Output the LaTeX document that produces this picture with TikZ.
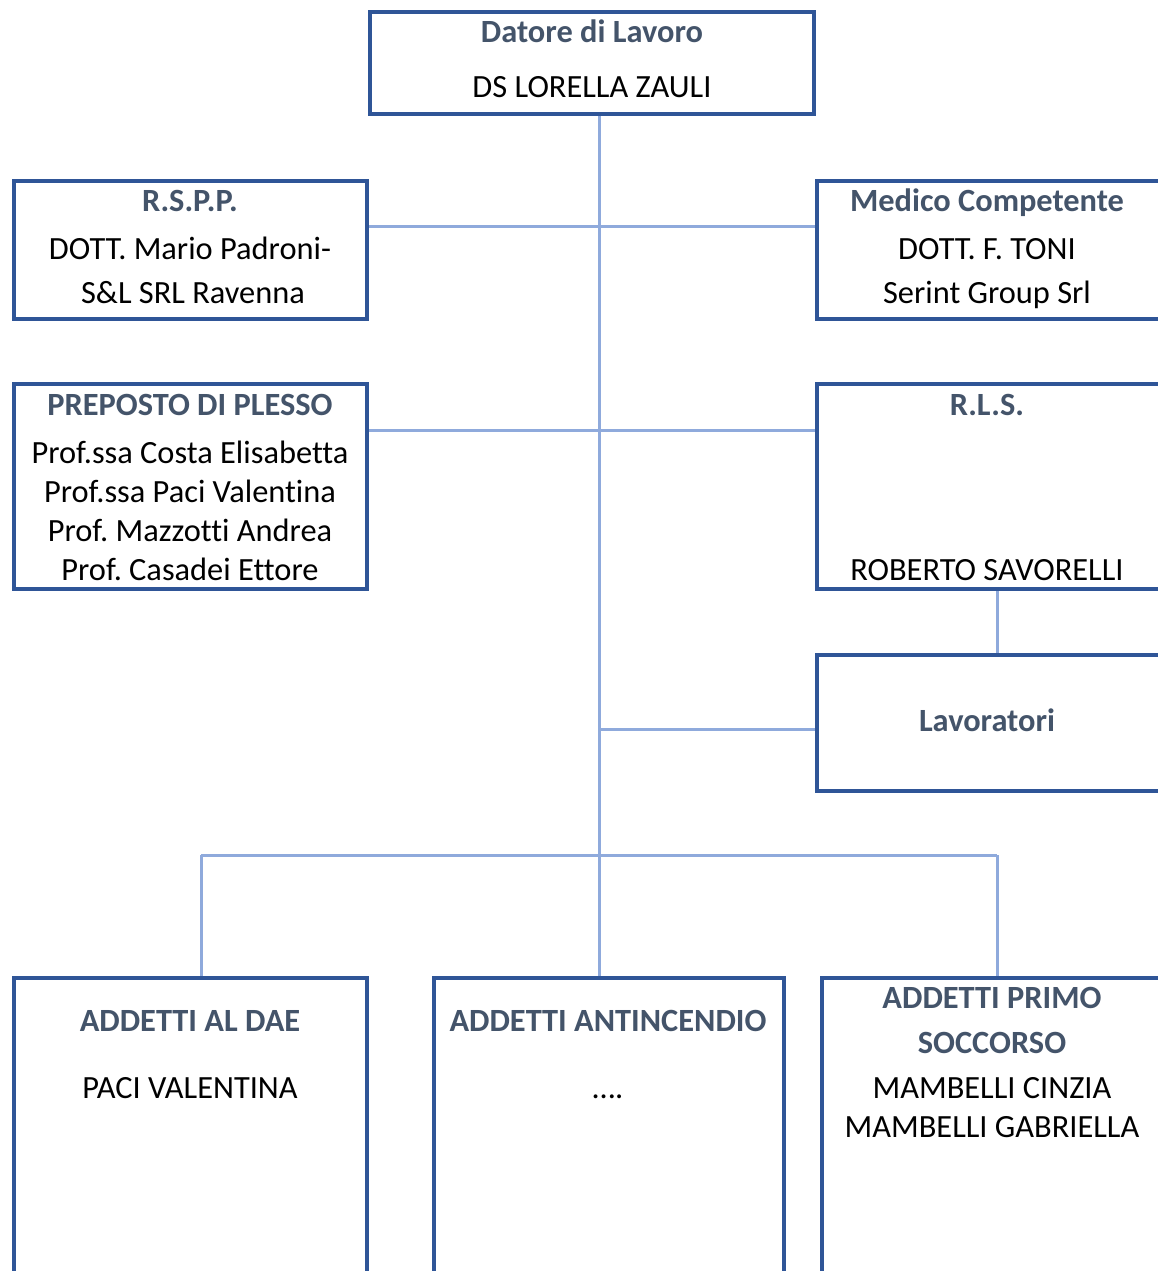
\documentclass[tikz,border=0pt]{standalone}
\usepackage{fontspec}
\setmainfont[Ligatures=NoCommon]{Carlito}
\frenchspacing
\definecolor{boxblue}{HTML}{2F5597}
\definecolor{linkblue}{HTML}{8FAADC}
\definecolor{titlecol}{HTML}{44546A}
\begin{document}
\begin{tikzpicture}[x=1pt,y=-1pt,
  orgbox/.style={draw=boxblue,line width=4pt,rectangle,inner sep=0pt,fill=none},
  link/.style={draw=linkblue,line width=3pt},
  ttl/.style={anchor=base,inner sep=0pt,font=\fontsize{32.4}{38}\selectfont\bfseries,text=titlecol},
  body/.style={anchor=base,inner sep=0pt,font=\fontsize{32.4}{38}\selectfont,text=black}]
\useasboundingbox (0,0) rectangle (1158,1271);
\clip (0,0) rectangle (1158,1271);
% boxes
\node[orgbox,minimum width=444pt,minimum height=102pt] (datore) at (592,63) {};
\node[orgbox,minimum width=353pt,minimum height=138pt] (rspp) at (190.5,250) {};
\node[orgbox,minimum width=383pt,minimum height=138pt] (medico) at (1008.5,250) {};
\node[orgbox,minimum width=353pt,minimum height=205pt] (prep) at (190.5,486.5) {};
\node[orgbox,minimum width=383pt,minimum height=205pt] (rls) at (1008.5,486.5) {};
\node[orgbox,minimum width=383pt,minimum height=136pt] (lav) at (1008.5,723) {};
\node[orgbox,minimum width=353pt,minimum height=322pt] (dae) at (190.5,1139) {};
\node[orgbox,minimum width=350pt,minimum height=322pt] (antinc) at (609,1139) {};
\node[orgbox,minimum width=378pt,minimum height=322pt] (primo) at (1011,1139) {};
% connector coordinates
\coordinate (trunk) at (599,855);
\coordinate (jl) at (201,855);
\coordinate (jr) at (997,855);
\coordinate (jlav) at (599,729);
% connectors
\draw[link] (datore.south -| trunk) -- (trunk);
\draw[link] (rspp.east |- 0,226) -- (medico.west |- 0,226);
\draw[link] (prep.east |- 0,430) -- (rls.west |- 0,430);
\draw[link] (rls.south -| jr) -- (lav.north -| jr);
\draw[link] (jlav) -- (lav.west |- jlav);
\draw[link] (jl) -- (jr);
\draw[link] (jl) -- (dae.north -| jl);
\draw[link] (trunk) -- (antinc.north -| trunk);
\draw[link] (jr) -- (primo.north -| jr);
% texts
\node[ttl] (t1) at (592,43) {Datore di Lavoro};
\node[body] (t2) at (592,98) {DS LORELLA ZAULI};
\node[ttl] (t3) at (190,211) {R.S.P.P.};
\node[body] (t4) at (190,259) {DOTT. Mario Padroni-};
\node[body] (t5) at (193,303) {S\&L SRL Ravenna};
\node[ttl] (t6) at (987,211) {Medico Competente};
\node[body] (t7) at (987,259) {DOTT. F. TONI};
\node[body] (t8) at (987,303) {Serint Group Srl};
\node[ttl] (t9) at (190,415) {PREPOSTO DI PLESSO};
\node[body] (t10) at (190,463) {Prof.ssa Costa Elisabetta};
\node[body] (t11) at (190,502) {Prof.ssa Paci Valentina};
\node[body] (t12) at (190,541) {Prof. Mazzotti Andrea};
\node[body] (t13) at (190,580) {Prof. Casadei Ettore};
\node[ttl] (t14) at (987,415) {R.L.S.};
\node[body] (t15) at (987,580) {ROBERTO SAVORELLI};
\node[ttl] (t16) at (987,731) {Lavoratori};
\node[ttl] (t17) at (190,1031) {ADDETTI AL DAE};
\node[body] (t18) at (190,1098) {PACI VALENTINA};
\node[ttl] (t19) at (608,1031) {ADDETTI ANTINCENDIO};
\node[body] (t20) at (608,1098) {….};
\node[ttl] (t21) at (992,1008) {ADDETTI PRIMO};
\node[ttl] (t22) at (992,1053) {SOCCORSO};
\node[body] (t23) at (992,1098) {MAMBELLI CINZIA};
\node[body] (t24) at (992,1137) {MAMBELLI GABRIELLA};
\end{tikzpicture}
\end{document}
